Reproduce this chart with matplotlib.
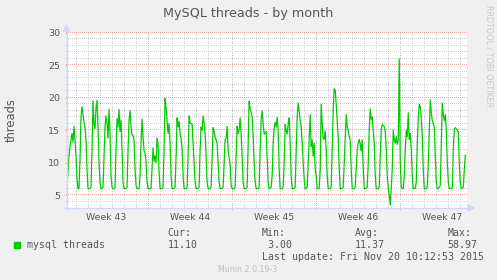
import numpy as np
import matplotlib
matplotlib.use("Agg")
import matplotlib.pyplot as plt
import matplotlib.transforms as mtransforms
from matplotlib.patches import Rectangle, Polygon
from matplotlib.lines import Line2D

# values every 2 hours, one row per day; week 43 starts at Mon 06:00
week43 = [
    6.2, 8.5, 11.0, 12.5, 13.5, 14.5, 13.2, 15.6, 13.5,
    11, 7.5, 6.0, 6.0, 10.5, 17, 18.6, 17.5, 16.2, 15.5, 13.5, 9,
    6, 6, 6, 6.2, 12, 19.5, 16, 15.2, 18.5, 19.6, 15.5, 10,
    7, 6, 6, 6.2, 11, 15.5, 17.2, 16.2, 13.8, 18.2, 14.5, 8,
    6.2, 6, 6, 6.2, 12, 16.8, 15.5, 18.2, 14.8, 16.5, 12, 7,
    6, 6, 6, 6.2, 12, 16.5, 18, 15.5, 14.3, 14.2, 13.5, 9,
    6.5, 6, 6, 6, 8, 13, 16.7, 14, 11.8, 11.5, 10.2, 7,
]
week44 = [
    6, 6, 6, 6, 9, 12.3, 10.2, 11, 10, 13.8, 12.8, 8.5,
    6, 6, 6, 6.2, 12, 19.9, 18.5, 16.5, 14.5, 16, 13, 8,
    6, 6, 6, 6.2, 11, 16.9, 15.5, 16.4, 14.5, 13.8, 12, 8,
    6, 6, 6, 6.2, 11, 17.2, 16.2, 16, 16, 13, 10, 7,
    6, 6, 6, 6.2, 12, 15.5, 15, 17.2, 16, 14.5, 11, 7,
    6, 6, 6, 6.2, 11, 15.4, 14.8, 14, 13.5, 13, 10, 7,
    6, 6, 6, 6.2, 10, 13.5, 13.8, 15.6, 12, 10.8, 9.8, 6.5,
]
week45 = [
    6, 6, 6, 6.2, 11, 15.6, 14.5, 15, 16.9, 14.5, 11, 7,
    6, 6, 6, 6.2, 13, 19.5, 18.3, 17.8, 17, 14, 10, 7,
    6, 6, 6, 6.2, 12, 16.5, 18, 16, 14.4, 14.6, 14.8, 11,
    7, 6, 6, 6.2, 8, 13, 15.4, 16.2, 15.5, 17, 15, 9,
    6, 6, 6, 6.2, 10, 15.9, 15, 14.4, 16, 16.9, 13, 8,
    6, 6, 6, 6.2, 12, 17, 19.2, 18, 16.5, 15.5, 13, 10,
    7.5, 6, 6, 6.2, 10, 14, 17.4, 12.5, 13.5, 11, 13, 9,
]
week46 = [
    8, 6, 6, 6, 9, 19, 16, 13.8, 13.6, 14.9, 12, 8,
    6, 6, 6, 6.2, 12, 18, 21.4, 21.2, 19, 16.4, 14, 9,
    6, 6, 6, 6.2, 10, 14, 17.4, 15.5, 14.9, 14.1, 13.5, 9,
    6, 6, 6, 6.2, 9, 12, 13, 13.6, 12.8, 11.8, 13.5, 9,
    6, 6, 6, 6.2, 10, 15, 18.3, 16.7, 17, 15, 13, 8,
    6, 6, 6, 6.2, 11, 15, 15.9, 15.7, 15.6, 14.9, 12, 8,
    6, 5, 3.5, 6, 9, 15, 13.5, 13, 14, 12.8, 13.5, 26,
]
week47 = [
    10, 6.3, 6, 6, 8, 12, 15, 14, 17.7, 13.6, 14.5, 12,
    8, 6, 6, 6, 7, 13, 17, 19, 18.7, 17, 14, 9,
    6, 6, 6, 6.2, 10, 15, 19.7, 17.7, 16.5, 16, 15.5, 11,
    7, 6, 6, 6.2, 6.5, 13, 19.2, 17.4, 16.5, 17.4, 15, 10,
    7, 6, 6, 6, 6.2, 12, 15.2, 15.4, 15.2, 15, 14.8, 10,
    7, 6, 6, 6.2, 9, 11.1,
]
week_labels = ["Week 43", "Week 44", "Week 45", "Week 46", "Week 47"]
week_starts = [-7, 0, 7, 14, 21]
legend_name = "mysql threads"
cur, vmin, avg, vmax = "11.10", "3.00", "11.37", "58.97"

threads = np.array(week43 + week44 + week45 + week46 + week47)
days = -6.75 + np.arange(len(threads)) / 12.0

W, H = 497, 280
def fx(px):
    return px / W
def fy(py):
    return 1 - py / H

txt = "#555555"
axis_c = "#CFD6F8"
fig = plt.figure(figsize=(W / 100, H / 100), dpi=100, facecolor="#F0F0F0")
ax = fig.add_axes([fx(66.5), fy(208), 401 / W, 175 / H])
ax.set_facecolor("white")
x0, x1 = -6.79, -6.79 + 401 / 12.01
y0, y1 = 3, 30
ax.set_xlim(x0, x1)
ax.set_ylim(y0, y1)
for s in ax.spines.values():
    s.set_visible(False)

# dotted grid: single pixels every 2 px
gray, red = "#D2D2D2", "#F2A8A8"
px_x = (x1 - x0) / 401
px_y = (y1 - y0) / 175
ys_dots = np.arange(y0, y1 + px_y / 2, 2 * px_y)
xs_dots = np.arange(x0, x1, 2 * px_x)
for d in range(-6, 27):
    c = red if d % 7 == 0 else gray
    ax.plot(np.full_like(ys_dots, d), ys_dots, ",", color=c, zorder=1, clip_on=False)
for v in range(4, 31):
    c = red if v % 5 == 0 else gray
    ax.plot(xs_dots, np.full_like(xs_dots, v), ",", color=c, zorder=1, clip_on=False)

ax.plot(days, threads, color="#00CC00", lw=0.9, zorder=3)

ax.set_yticks(range(5, 31, 5))
ax.set_xticks([0, 7, 14, 21])
ax.set_xticklabels([])
ax.tick_params(axis="y", length=1.5, color=red, pad=3.2, labelsize=6.8, labelcolor=txt)
ax.tick_params(axis="x", length=1.5, color=red)

trans = mtransforms.blended_transform_factory(ax.transData, fig.transFigure)
for lab, st in zip(week_labels, week_starts):
    ax.text(st + 3.5, fy(217.5), lab, transform=trans, ha="center", va="center",
            fontsize=6.7, color=txt)

# axes with arrows
fig.add_artist(Line2D([fx(66.5), fx(66.5)], [fy(210), fy(30)], color=axis_c, lw=1))
fig.add_artist(Polygon([[fx(63.5), fy(31)], [fx(69.5), fy(31)], [fx(66.5), fy(25)]],
                       closed=True, color=axis_c, transform=fig.transFigure))
fig.add_artist(Line2D([fx(64), fx(469)], [fy(208), fy(208)], color=axis_c, lw=1))
fig.add_artist(Polygon([[fx(468), fy(205)], [fx(468), fy(211)], [fx(474), fy(208)]],
                       closed=True, color=axis_c, transform=fig.transFigure))

fig.text(fx(248), fy(16.5), "MySQL threads - by month", ha="center", va="baseline",
         fontsize=9.2, color=txt)
fig.text(fx(11), fy(120), "threads", rotation=90, ha="center", va="center",
         fontsize=8.3, color=txt)
fig.text(fx(488.5), fy(56.5), "RRDTOOL / TOBI OETIKER", rotation=270, ha="center",
         va="center", fontsize=5.8, color="#C8C8C8")

mono = dict(family="DejaVu Sans Mono", fontsize=7.15, color=txt, va="baseline")
fig.add_artist(Rectangle((fx(14), fy(248)), 6 / W, 6 / H, color="#00CC00",
                         transform=fig.transFigure))
fig.text(fx(27), fy(247.5), legend_name, **mono)
fig.text(fx(167.3), fy(236), "Cur:", **mono)
fig.text(fx(167.3), fy(247.5), cur, **mono)
fig.text(fx(261.7), fy(236), "Min:", **mono)
fig.text(fx(261.7), fy(247.5), " " + vmin, **mono)
fig.text(fx(355), fy(236), "Avg:", **mono)
fig.text(fx(354.3), fy(247.5), avg, **mono)
fig.text(fx(447.7), fy(236), "Max:", **mono)
fig.text(fx(447.3), fy(247.5), vmax, **mono)
fig.text(fx(261.7), fy(259.5), "Last update: Fri Nov 20 10:12:53 2015", **mono)
fig.text(fx(248), fy(272), "Munin 2.0.19-3", ha="center", va="baseline",
         fontsize=5.7, color="#C0C0C0")

fig.savefig("out.png", dpi=100, facecolor=fig.get_facecolor())
